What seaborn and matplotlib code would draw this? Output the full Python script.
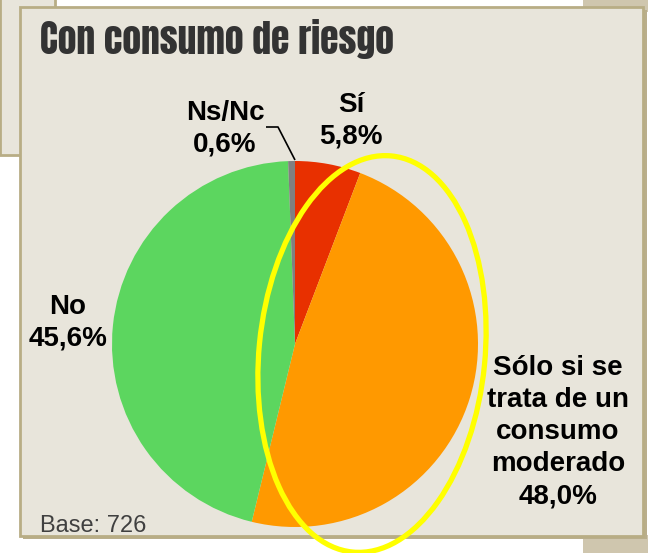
import matplotlib
matplotlib.use("Agg")
import matplotlib.pyplot as plt
import matplotlib.patches as mpatches
from matplotlib import font_manager
import seaborn as sns

# data
labels = ["Sí", "Sólo si se\ntrata de un\nconsumo\nmoderado", "No", "Ns/Nc"]
values = [5.8, 48.0, 45.6, 0.6]
colors = ["#E83000", "#FF9900", "#5CD65F", "#808080"]
title = "Con consumo de riesgo"
base_note = "Base: 726"

# label centres (pixels, y down)
label_pos = [(351, 121), (558, 432), (68, 323), (225, 129)]

sns.set_theme(style="white")
plt.rcParams["font.family"] = ["Liberation Sans", "DejaVu Sans"]

# Impact-like font for the title, if there is one
installed = {f.name for f in font_manager.fontManager.ttflist}
title_font = "DejaVu Sans"
for name in ["Anton", "Oswald", "Roboto Condensed", "Liberation Sans Narrow"]:
    if name in installed:
        title_font = name
        break

fig = plt.figure(figsize=(6.48, 5.53), dpi=100)
fig.patch.set_facecolor("white")
ax = fig.add_axes([0, 0, 1, 1])

bg = "#E8E5DB"
edge = "#B8AD85"
tan = "#CFC6AE"

# frames behind the panel
ax.add_patch(mpatches.Rectangle((0, -2), 55, 157, facecolor=bg, edgecolor=edge, lw=2))
ax.add_patch(mpatches.Rectangle((583, 0), 70, 12, facecolor=tan, edgecolor="none"))
ax.add_patch(mpatches.Rectangle((583, 535), 70, 20, facecolor=tan, edgecolor="none"))
ax.add_patch(mpatches.Rectangle((23, 10), 624, 529, facecolor="#B9AE8C", edgecolor="none"))
ax.add_patch(mpatches.Rectangle((20, 7), 623, 529, facecolor=bg, edgecolor=edge, lw=2))

# pie (y axis inverted, so counterclock in data = clockwise on screen)
cx, cy, r = 295, 344, 183
ax.pie(values, colors=colors, startangle=-90, counterclock=True,
       center=(cx, cy), radius=r, wedgeprops=dict(linewidth=0))

ax.set_xlim(0, 648)
ax.set_ylim(553, 0)
ax.set_aspect("auto")
ax.axis("off")

# highlight ellipse
ax.add_patch(mpatches.Ellipse((372, 354), 226, 398, angle=5.6, fill=False,
                              edgecolor="#FFFF00", lw=3.8))

# leader line for Ns/Nc
ax.plot([cx, cx - 17, cx - 29], [cy - r - 1, cy - r - 34, cy - r - 34],
        color="black", lw=1.2, solid_capstyle="butt")

for lab, val, (x, y) in zip(labels, values, label_pos):
    txt = lab + "\n" + f"{val:.1f}".replace(".", ",") + "%"
    ax.text(x, y, txt, ha="center", va="center", fontsize=20, fontweight="bold",
            color="black", linespacing=1.3, multialignment="center")

if title_font == "DejaVu Sans":
    ax.text(40, 53, title, fontsize=20, fontweight="bold", color="#333333",
            family=title_font, va="baseline")
else:
    ax.text(40, 54, title, fontsize=27, color="#333333",
            family=title_font, va="baseline")
ax.text(40, 532, base_note, fontsize=17, color="#404040", va="baseline")

fig.savefig("out.png", dpi=100, facecolor="white")
